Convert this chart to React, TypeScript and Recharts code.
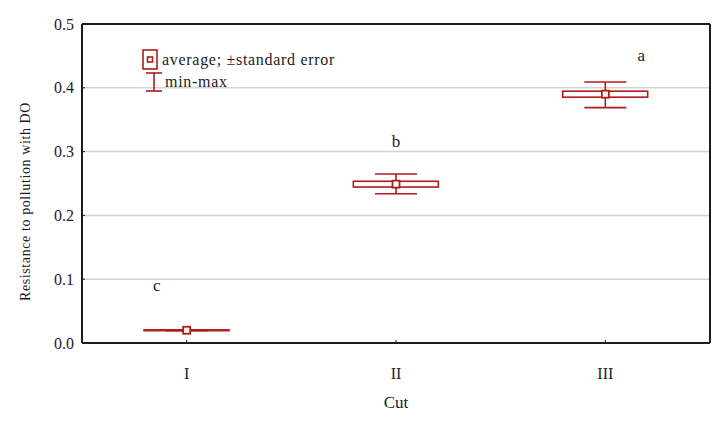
import {
  Bar,
  CartesianGrid,
  ComposedChart,
  ErrorBar,
  ReferenceDot,
  Scatter,
  XAxis,
  YAxis,
} from 'recharts';

const cuts = ['I', 'II', 'III'];
const means = [0.02, 0.249, 0.39];
const stdErrors = [0.0006, 0.0045, 0.0047];
const mins = [0.0194, 0.234, 0.369];
const maxs = [0.0206, 0.265, 0.409];
const groupLetters = ['c', 'b', 'a'];
const letterLevels = [0.09, 0.316, 0.45];
const yTicks = [0, 0.1, 0.2, 0.3, 0.4, 0.5];

const RED = '#b01c1c';
const INK = '#1c1c1c';
const FONT = "'Liberation Serif', 'Times New Roman', serif";

const data = cuts.map((cut, i) => ({
  cut,
  mean: means[i],
  box: [means[i] - stdErrors[i], means[i] + stdErrors[i]],
  range: [means[i] - mins[i], maxs[i] - means[i]],
}));

// horizontal nudge of the letters, as in the source figure
const letterDx = [-30, 0, 36];

function BoxShape(props: any) {
  const { x, y, width, height } = props;
  const h = Math.max(height, 0.8);
  return <rect x={x} y={y} width={width} height={h} fill="#fff" stroke={RED} strokeWidth={1.6} />;
}

function MeanShape(props: any) {
  const { cx, cy } = props;
  return <rect x={cx - 3.5} y={cy - 3.5} width={7} height={7} fill="#fff" stroke={RED} strokeWidth={1.8} />;
}

function LegendBox() {
  const text = { fontFamily: FONT, fontSize: 16, color: INK, letterSpacing: 0.7 };
  return (
    <div style={{ position: 'absolute', left: 141, top: 49, lineHeight: '22px' }}>
      <div style={{ display: 'flex', alignItems: 'center' }}>
        <svg width={21} height={22}>
          <rect x={2} y={1} width={14} height={19} fill="#fff" stroke={RED} strokeWidth={1.6} />
          <rect x={6.5} y={8} width={5} height={5} fill="#fff" stroke={RED} strokeWidth={1.6} />
        </svg>
        <span style={text}>average; ±standard error</span>
      </div>
      <div style={{ display: 'flex', alignItems: 'center' }}>
        <svg width={24} height={22}>
          <line x1={5} y1={2} x2={21} y2={2} stroke={RED} strokeWidth={1.6} />
          <line x1={13} y1={2} x2={13} y2={20} stroke={RED} strokeWidth={1.6} />
          <line x1={5} y1={20} x2={21} y2={20} stroke={RED} strokeWidth={1.6} />
        </svg>
        <span style={text}>min-max</span>
      </div>
    </div>
  );
}

function LetterLabel(props: any) {
  const { viewBox, value, dx } = props;
  const cx = viewBox.x + viewBox.width / 2;
  const cy = viewBox.y + viewBox.height / 2;
  return (
    <text x={cx + dx} y={cy} textAnchor="middle" dominantBaseline="central" fontFamily={FONT} fontSize={17} fill={INK}>
      {value}
    </text>
  );
}

function YLabel(props: any) {
  const { viewBox } = props;
  const x = 25;
  const y = viewBox.y + viewBox.height / 2 + 18;
  return (
    <text
      x={x}
      y={y}
      transform={`rotate(-90, ${x}, ${y})`}
      textAnchor="middle"
      dominantBaseline="central"
      fontFamily={FONT}
      fontSize={14}
      letterSpacing={0.6}
      fill={INK}
    >
      Resistance to pollution with DO
    </text>
  );
}

export default function App() {
  return (
    <div style={{ position: 'absolute', left: 0, top: 0, width: 726, height: 422, background: '#fff' }}>
      <ComposedChart width={726} height={422} data={data} margin={{ top: 23, right: 15, bottom: 0, left: 0 }}>
        <CartesianGrid horizontal vertical={false} stroke="#d4d4d4" strokeWidth={1.5} />
        <XAxis
          dataKey="cut"
          height={79}
          axisLine={{ stroke: INK, strokeWidth: 2 }}
          tickLine={{ stroke: INK }}
          tickSize={-3}
          tickMargin={28}
          tick={{ fontFamily: FONT, fontSize: 16, fill: INK }}
          label={{ value: 'Cut', position: 'insideBottom', offset: 14, fontFamily: FONT, fontSize: 17, fill: INK }}
        />
        <XAxis
          xAxisId="top"
          dataKey="cut"
          orientation="top"
          height={1}
          axisLine={{ stroke: INK, strokeWidth: 2 }}
          tickLine={{ stroke: INK }}
          tickSize={-3}
          tick={false}
        />
        <YAxis
          domain={[0, 0.5]}
          ticks={yTicks}
          width={82}
          axisLine={{ stroke: INK, strokeWidth: 2 }}
          tickLine={{ stroke: INK }}
          tickSize={-3}
          tickMargin={11}
          tickFormatter={(v: number) => v.toFixed(1)}
          tick={{ fontFamily: FONT, fontSize: 16, fill: INK }}
          label={<YLabel />}
        />
        <YAxis
          yAxisId="right"
          orientation="right"
          domain={[0, 0.5]}
          ticks={yTicks}
          width={1}
          axisLine={{ stroke: INK, strokeWidth: 2 }}
          tickLine={{ stroke: INK }}
          tickSize={-3}
          tick={false}
        />
        <Bar dataKey="box" barSize={85} shape={<BoxShape />} isAnimationActive={false} />
        <Scatter dataKey="mean" shape={<MeanShape />} isAnimationActive={false}>
          <ErrorBar dataKey="range" width={21} stroke={RED} strokeWidth={1.6} direction="y" />
        </Scatter>
        {cuts.map((cut, i) => (
          <ReferenceDot
            key={cut}
            x={cut}
            y={letterLevels[i]}
            r={0}
            fill="none"
            stroke="none"
            label={<LetterLabel value={groupLetters[i]} dx={letterDx[i]} />}
          />
        ))}
      </ComposedChart>
      <LegendBox />
    </div>
  );
}
